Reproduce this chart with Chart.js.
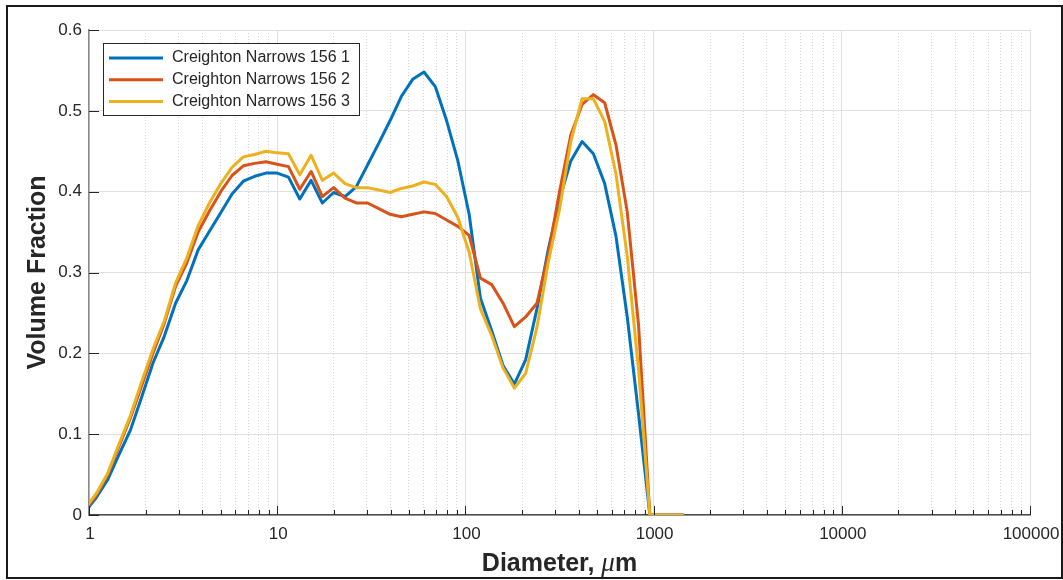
<!DOCTYPE html>
<html>
<head>
<meta charset="utf-8">
<title>Particle size distribution</title>
<script src="https://cdn.jsdelivr.net/npm/chart.js@4.4.1/dist/chart.umd.min.js"></script>
<style>
  html, body { margin: 0; padding: 0; background: #fff; }
  canvas { display: block; }
</style>
</head>
<body>
<canvas id="psd" width="1063" height="580"></canvas>
<script>
// size classes (um) and volume fractions for the three runs
const diameters = [
  0.955, 1.096, 1.259, 1.445, 1.660, 1.905, 2.188, 2.512, 2.884, 3.311,
  3.802, 4.365, 5.012, 5.754, 6.607, 7.586, 8.710, 10.00, 11.48, 13.18,
  15.14, 17.38, 19.95, 22.91, 26.30, 30.20, 34.67, 39.81, 45.71, 52.48,
  60.26, 69.18, 79.43, 91.20, 104.7, 120.2, 138.0, 158.5, 182.0, 208.9,
  239.9, 275.4, 316.2, 363.1, 416.9, 478.6, 549.5, 631.0, 724.4, 831.8,
  955.0, 1096, 1259, 1445
];
const run1 = [
  0.004, 0.022, 0.044, 0.075, 0.105, 0.146, 0.188, 0.221, 0.262, 0.290,
  0.328, 0.351, 0.374, 0.397, 0.413, 0.419, 0.423, 0.423, 0.418, 0.391,
  0.414, 0.386, 0.399, 0.394, 0.406, 0.433, 0.460, 0.488, 0.518, 0.539,
  0.548, 0.530, 0.488, 0.438, 0.372, 0.268, 0.228, 0.185, 0.162, 0.192,
  0.255, 0.328, 0.390, 0.438, 0.462, 0.447, 0.410, 0.345, 0.245, 0.125,
  0, 0, 0, 0
];
const run2 = [
  0.006, 0.025, 0.050, 0.085, 0.120, 0.160, 0.200, 0.237, 0.283, 0.312,
  0.350, 0.376, 0.400, 0.420, 0.432, 0.435, 0.437, 0.434, 0.431, 0.403,
  0.425, 0.394, 0.405, 0.392, 0.386, 0.386, 0.379, 0.372, 0.369, 0.372,
  0.375, 0.373, 0.365, 0.357, 0.346, 0.293, 0.285, 0.262, 0.233, 0.245,
  0.262, 0.322, 0.400, 0.470, 0.508, 0.520, 0.510, 0.458, 0.375, 0.235,
  0, 0, 0, 0
];
const run3 = [
  0.008, 0.027, 0.052, 0.088, 0.123, 0.165, 0.205, 0.240, 0.287, 0.318,
  0.358, 0.386, 0.410, 0.430, 0.443, 0.446, 0.450, 0.448, 0.447, 0.421,
  0.445, 0.414, 0.423, 0.410, 0.405, 0.405, 0.402, 0.399, 0.404, 0.407,
  0.412, 0.409, 0.394, 0.368, 0.325, 0.255, 0.222, 0.182, 0.157, 0.175,
  0.232, 0.312, 0.378, 0.462, 0.515, 0.515, 0.487, 0.422, 0.320, 0.180,
  0, 0, 0, 0
];
const runNames = ['Creighton Narrows 156 1', 'Creighton Narrows 156 2', 'Creighton Narrows 156 3'];
const runColors = ['#0072BD', '#D95319', '#EDB120'];

const xTickValues = [1, 10, 100, 1000, 10000, 100000];
const xTickLabels = ['1', '10', '100', '1000', '10000', '100000'];
const yTickValues = [0, 0.1, 0.2, 0.3, 0.4, 0.5, 0.6];
const yTickLabels = ['0', '0.1', '0.2', '0.3', '0.4', '0.5', '0.6'];

const FONT = '"Liberation Sans", Arial, Helvetica, sans-serif';
const INK = '#262626';

function points(values) {
  return values.map((v, i) => ({ x: diameters[i], y: v }));
}

function line(ctx, x1, y1, x2, y2) {
  ctx.beginPath();
  ctx.moveTo(x1, y1);
  ctx.lineTo(x2, y2);
  ctx.stroke();
}

// white page, inward ticks, boxed legend, axis titles and outer frame
const figureDecor = {
  id: 'figureDecor',
  beforeDraw(chart) {
    const ctx = chart.ctx;
    ctx.save();
    ctx.fillStyle = '#fff';
    ctx.fillRect(0, 0, chart.width, chart.height);
    ctx.restore();
  },
  afterDraw(chart) {
    const { ctx, chartArea: a } = chart;
    const x = chart.scales.x, y = chart.scales.y;
    ctx.save();

    // tick marks point into the plot
    ctx.strokeStyle = INK;
    ctx.lineWidth = 1;
    yTickValues.forEach(v => {
      const py = Math.round(y.getPixelForValue(v)) + 0.5;
      line(ctx, a.left, py, a.left + 10, py);
    });
    x.ticks.forEach(t => {
      const px = Math.round(x.getPixelForValue(t.value)) + 0.5;
      line(ctx, px, a.bottom, px, a.bottom - (t.major ? 9 : 5));
    });

    // legend
    const lg = { left: 103.5, top: 43.5, w: 256, h: 72 };
    ctx.fillStyle = '#fff';
    ctx.fillRect(lg.left, lg.top, lg.w, lg.h);
    ctx.strokeStyle = INK;
    ctx.lineWidth = 1;
    ctx.strokeRect(lg.left, lg.top, lg.w, lg.h);
    ctx.font = '16px ' + FONT;
    ctx.textBaseline = 'middle';
    ctx.textAlign = 'left';
    chart.data.datasets.forEach((ds, i) => {
      const cy = 58 + i * 21.8;
      ctx.strokeStyle = ds.borderColor;
      ctx.lineWidth = 3;
      line(ctx, 109, cy, 163, cy);
      ctx.fillStyle = INK;
      ctx.fillText(ds.label, 172, cy);
    });

    // y title
    ctx.fillStyle = INK;
    ctx.font = 'bold 25px ' + FONT;
    ctx.textBaseline = 'alphabetic';
    ctx.save();
    ctx.translate(45, (a.top + a.bottom) / 2);
    ctx.rotate(-Math.PI / 2);
    ctx.textAlign = 'center';
    ctx.fillText('Volume Fraction', 0, 0);
    ctx.restore();

    // x title: "Diameter, " bold, mu italic, "m" bold
    const parts = [
      { t: 'Diameter, ', f: 'bold 25px ' + FONT },
      { t: '\u03bc', f: 'italic 27px "Liberation Serif", "DejaVu Serif", serif' },
      { t: 'm', f: 'bold 25px ' + FONT }
    ];
    let total = 0;
    parts.forEach(p => { ctx.font = p.f; p.w = ctx.measureText(p.t).width; total += p.w; });
    let tx = (a.left + a.right) / 2 - total / 2;
    ctx.textAlign = 'left';
    parts.forEach(p => { ctx.font = p.f; ctx.fillText(p.t, tx, 571); tx += p.w; });

    // figure frame
    ctx.strokeStyle = '#1a1a1a';
    ctx.lineWidth = 2;
    ctx.strokeRect(7, 6, 1055, 572);
    ctx.restore();
  }
};

window.onload = function () {
  const ctx = document.getElementById('psd');

  const datasets = [run1, run2, run3].map((vals, i) => ({
    label: runNames[i],
    data: points(vals),
    borderColor: runColors[i],
    backgroundColor: runColors[i],
    borderWidth: 3,
    pointRadius: 0,
    tension: 0,
    borderJoinStyle: 'round',
    fill: false,
    order: 3 - i
  }));

  const config = {
    type: 'line',
    data: { datasets },
    options: {
      responsive: false,
      animation: false,
      devicePixelRatio: 1,
      layout: { padding: { top: 30, right: 33, left: 0, bottom: 0 } },
      scales: {
        x: {
          type: 'logarithmic',
          min: 1,
          max: 100000,
          afterBuildTicks(scale) {
            const ticks = [];
            xTickValues.forEach((v, i) => {
              ticks.push({ value: v, major: true });
              if (i < xTickValues.length - 1) {
                for (let m = 2; m <= 9; m++) ticks.push({ value: v * m, major: false });
              }
            });
            scale.ticks = ticks;
          },
          afterFit(scale) {
            // plot box edges are fixed by the layout padding alone
            scale.height = 65;
            scale.paddingLeft = 0;
            scale.paddingRight = 0;
          },
          grid: {
            drawTicks: false,
            lineWidth: 1,
            color: c => (c.tick && c.tick.major ? '#e0e0e0' : '#d6d6d6')
          },
          border: {
            color: '#4a4a4a',
            width: 1.5,
            dash: c => (c.tick && !c.tick.major ? [1, 2] : [])
          },
          ticks: {
            autoSkip: false,
            maxRotation: 0,
            minRotation: 0,
            padding: 9,
            labelOffset: 1,
            color: INK,
            font: { family: FONT, size: 17 },
            callback(value) {
              const i = xTickValues.indexOf(value);
              return i >= 0 ? xTickLabels[i] : '';
            }
          }
        },
        y: {
          min: 0,
          max: 0.6,
          afterBuildTicks(scale) {
            scale.ticks = yTickValues.map(v => ({ value: v }));
          },
          afterFit(scale) {
            scale.width = 89;
            scale.paddingTop = 0;
            scale.paddingBottom = 0;
          },
          grid: { drawTicks: false, lineWidth: 1, color: '#e0e0e0' },
          border: { color: '#8a8a8a', width: 1.5 },
          ticks: {
            padding: 7,
            color: INK,
            font: { family: FONT, size: 17 },
            callback(value, index) { return yTickLabels[index]; }
          }
        }
      },
      plugins: {
        legend: { display: false },
        tooltip: { enabled: false }
      }
    },
    plugins: [figureDecor]
  };

  const psdChart = new Chart(ctx, config);
};
</script>
</body>
</html>
